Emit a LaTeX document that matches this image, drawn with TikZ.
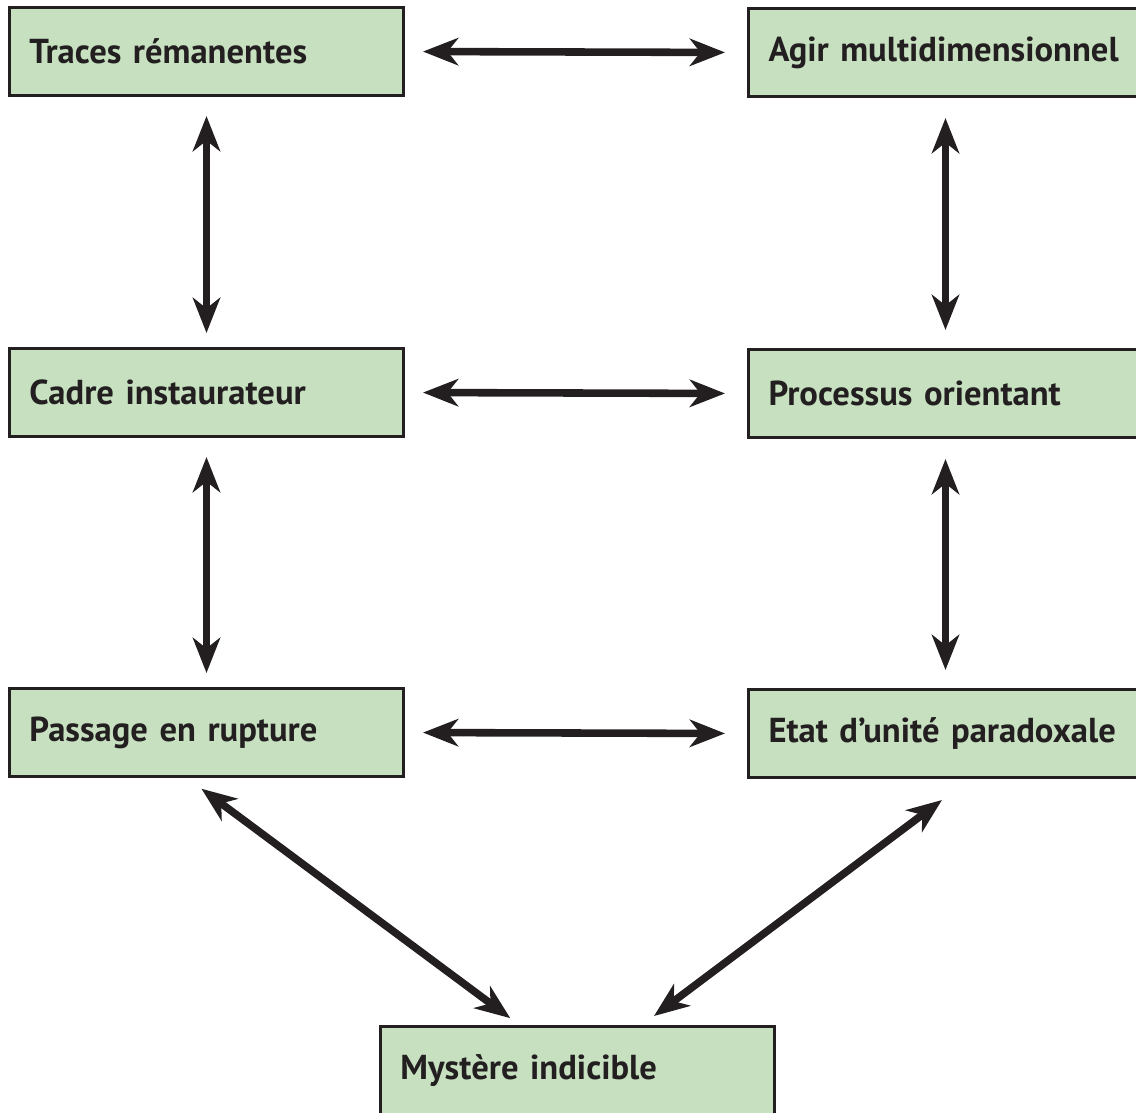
\documentclass[tikz,border=0pt]{standalone}
\usepackage{fontspec}
\setmainfont{PT Sans}
\usepackage{tikz}
\usetikzlibrary{positioning, arrows.meta}
\definecolor{boxgreen}{RGB}{198,224,192}
\definecolor{ink}{RGB}{35,31,32}

\tikzset{
  box/.style={draw=ink, line width=1.7pt, fill=boxgreen, anchor=north west,
    text width=7.08cm, inner xsep=0.4cm, minimum height=1.76cm, align=left,
    font=\fontsize{19.7}{24}\selectfont\bfseries, text=ink},
  link/.style={draw=ink, line width=4.3pt,
    {Stealth[length=20pt, width=15.5pt, inset=6pt]}-{Stealth[length=20pt, width=15.5pt, inset=6pt]}}
}

\begin{document}
\begin{tikzpicture}
				\useasboundingbox (0,0) rectangle (22.72,-22.24);
				\node[box] (tr) at (0.16,-0.12) {Traces rémanentes};
				\node[box] (ag) at (14.94,-0.14) {\mbox{Agir multidimensionnel}};
				\node[box] (ca) at (0.16,-6.94) {Cadre instaurateur};
				\node[box] (pr) at (14.94,-6.96) {Processus orientant};
				\node[box] (pa) at (0.16,-13.74) {Passage en rupture};
				\node[box] (et) at (14.94,-13.76) {\mbox{Etat d’unité paradoxale}};
				\node[box] (my) at (7.58,-20.5) {Mystère indicible};
				\draw (tr.east) edge[link, shorten <=0.36cm, shorten >=0.44cm] (ag.west)
					  (ca.east) edge[link, shorten <=0.36cm, shorten >=0.44cm] (pr.west)
					  (pa.east) edge[link, shorten <=0.36cm, shorten >=0.44cm] (et.west)
					  (tr.south) edge[link, shorten <=0.38cm, shorten >=0.28cm] (ca.north)
					  (ca.south) edge[link, shorten <=0.38cm, shorten >=0.28cm] (pa.north)
					  (ag.south) edge[link, shorten <=0.4cm, shorten >=0.36cm] (pr.north)
					  (pr.south) edge[link, shorten <=0.4cm, shorten >=0.36cm] (et.north)
					  ([xshift=-0.39cm]pa.south) edge[link, shorten <=0.36cm, shorten >=0.23cm] ([xshift=-1.16cm]my.north)
					  ([xshift=0.49cm]et.south) edge[link, shorten <=0.7cm, shorten >=0.3cm] ([xshift=1.29cm]my.north);
			\end{tikzpicture}
\end{document}
